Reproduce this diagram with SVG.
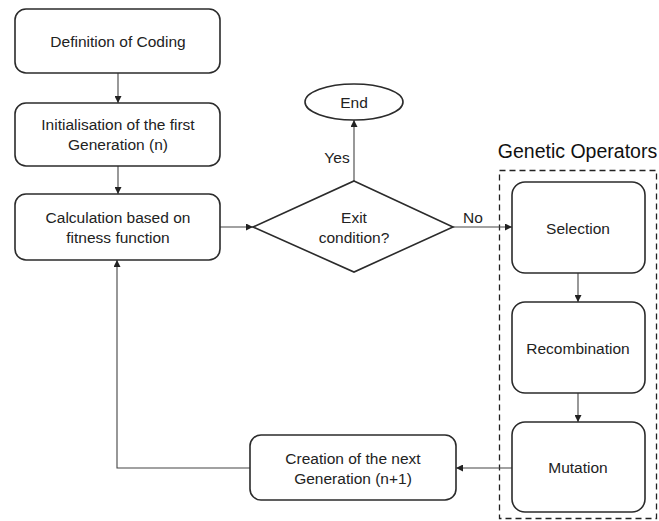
<svg xmlns="http://www.w3.org/2000/svg" width="659" height="521" viewBox="0 0 659 521">
<defs>
<marker id="ah" viewBox="0 0 10 10" refX="10" refY="5" markerWidth="7" markerHeight="7" orient="auto" markerUnits="userSpaceOnUse">
<path d="M0,0 L10,5 L0,10 z" fill="#222"/>
</marker>
<style>
.box{fill:#fff;stroke:#2b2b2b;stroke-width:1.6}
.t{font-family:"Liberation Sans",Arial,sans-serif;font-size:15.5px;fill:#222;text-anchor:middle}
.c{fill:none;stroke:#444;stroke-width:1.1}
.ca{fill:none;stroke:#444;stroke-width:1.1;marker-end:url(#ah)}
</style>
</defs>
<rect width="659" height="521" fill="#fff"/>
<g id="group-genetic">
<rect x="499.5" y="170.5" width="157" height="348" fill="none" stroke="#222" stroke-width="1.3" stroke-dasharray="6,4"/>
<text x="577.5" y="158" style="font-family:'Liberation Sans',Arial,sans-serif;font-size:19.5px;fill:#111;text-anchor:middle">Genetic Operators</text>
</g>
<g id="connectors">
<path class="ca" d="M118,73 V103"/>
<path class="ca" d="M118,166 V194"/>
<path class="ca" d="M220,227 H253"/>
<path class="ca" d="M354,181 V120"/>
<path class="ca" d="M453,227 H512"/>
<path class="ca" d="M578,273 V302"/>
<path class="ca" d="M578,393 V422"/>
<path class="ca" d="M512,468 H456"/>
<path class="ca" d="M250,468 H117 V260"/>
<text class="t" x="337" y="163">Yes</text>
<text class="t" x="473" y="223">No</text>
</g>
<g id="n-coding">
<rect class="box" x="15" y="9" width="205" height="64" rx="11"/>
<text class="t" x="118" y="47">Definition of Coding</text>
</g>
<g id="n-init">
<rect class="box" x="15" y="103" width="205" height="63" rx="11"/>
<text class="t" x="118" y="130">Initialisation of the first</text>
<text class="t" x="118" y="150">Generation (n)</text>
</g>
<g id="n-calc">
<rect class="box" x="15" y="194" width="205" height="66" rx="11"/>
<text class="t" x="118" y="223">Calculation based on</text>
<text class="t" x="118" y="243">fitness function</text>
</g>
<g id="n-exit">
<path class="box" d="M354,181 L453,227 L354,272 L253,227 Z"/>
<text class="t" x="354" y="223">Exit</text>
<text class="t" x="354" y="243">condition?</text>
</g>
<g id="n-end">
<ellipse class="box" cx="354" cy="102" rx="49" ry="18"/>
<text class="t" x="354" y="108">End</text>
</g>
<g id="n-selection">
<rect class="box" x="512" y="182" width="133" height="91" rx="13"/>
<text class="t" x="578" y="234">Selection</text>
</g>
<g id="n-recomb">
<rect class="box" x="512" y="302" width="133" height="91" rx="13"/>
<text class="t" x="578" y="354">Recombination</text>
</g>
<g id="n-mutation">
<rect class="box" x="512" y="422" width="133" height="90" rx="13"/>
<text class="t" x="578" y="473">Mutation</text>
</g>
<g id="n-creation">
<rect class="box" x="250" y="435" width="206" height="65" rx="11"/>
<text class="t" x="353" y="464">Creation of the next</text>
<text class="t" x="353" y="484">Generation (n+1)</text>
</g>
</svg>
